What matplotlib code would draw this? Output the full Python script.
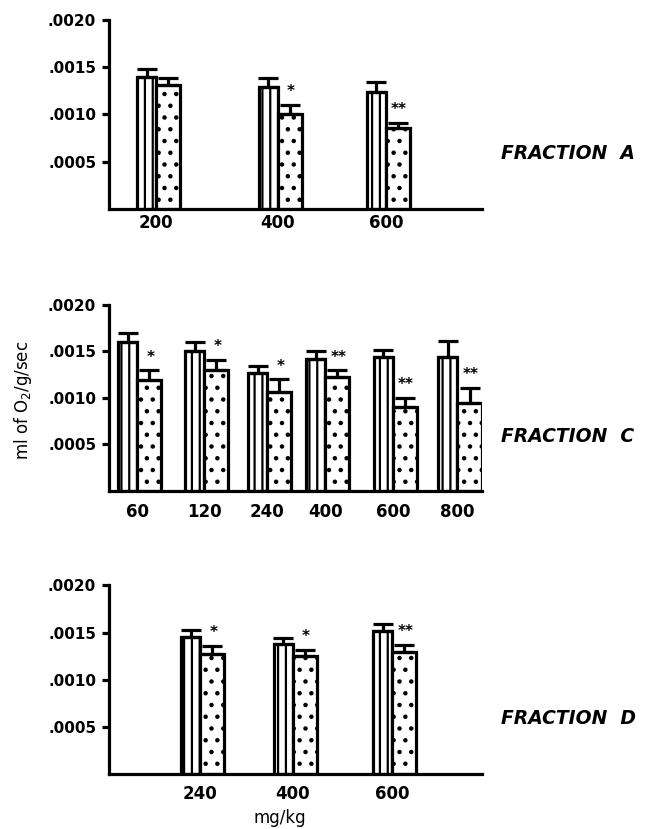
import matplotlib
matplotlib.use("Agg")
import matplotlib.pyplot as plt
import numpy as np

# Data (ml of O2/g/sec), open = control, dotted = treated
doses_a = ["200", "400", "600"]
ctrl_a = [0.00140, 0.00129, 0.00124]
ctrl_err_a = [0.00008, 0.00009, 0.00010]
trt_a = [0.00131, 0.00100, 0.00086]
trt_err_a = [0.00008, 0.00010, 0.00005]
sig_a = ["", "*", "**"]

doses_c = ["60", "120", "240", "400", "600", "800"]
ctrl_c = [0.00160, 0.00150, 0.00127, 0.00142, 0.00144, 0.00144]
ctrl_err_c = [0.00010, 0.00010, 0.00007, 0.00008, 0.00008, 0.00017]
trt_c = [0.00119, 0.00130, 0.00106, 0.00123, 0.00090, 0.00094]
trt_err_c = [0.00011, 0.00011, 0.00014, 0.00007, 0.00010, 0.00017]
sig_c = ["*", "*", "*", "**", "**", "**"]

doses_d = ["240", "400", "600"]
ctrl_d = [0.00145, 0.00138, 0.00152]
ctrl_err_d = [0.00008, 0.00006, 0.00007]
trt_d = [0.00127, 0.00125, 0.00129]
trt_err_d = [0.00009, 0.00007, 0.00008]
sig_d = ["*", "*", "**"]

yticks = [0.0005, 0.0010, 0.0015, 0.0020]
ytick_labels = [".0005", ".0010", ".0015", ".0020"]

# layout: group positions along x axis (axis spans 0..373)
pos_a = [47.5, 169, 277]
pos_c = [28.5, 95.5, 158.5, 216.5, 284, 348.5]
pos_d = [91.5, 184, 283.5]

# hatch spacing follows dpi, so render at a higher dpi for a sparser stipple
DPI = 141


def pt(v):
    # sizes below are tuned as if at 100 dpi
    return v * 100 / DPI


plt.rcParams["font.family"] = "DejaVu Sans"

fig = plt.figure(figsize=(647 / DPI, 829 / DPI), dpi=DPI)

LW = pt(2.3)


def panel(rect, pos, labels, ctrl, ctrl_err, trt, trt_err, sig, name, pad):
    ax = fig.add_axes(rect)
    pos = np.array(pos)
    with plt.rc_context({"hatch.linewidth": pt(1.6)}):
        ax.bar(pos, ctrl, width=-19, align="edge", facecolor="white",
               edgecolor="black", linewidth=LW, hatch="|||", zorder=2)
    with plt.rc_context({"hatch.linewidth": pt(1.5)}):
        ax.bar(pos, trt, width=24, align="edge", facecolor="white",
               edgecolor="black", linewidth=LW, hatch="..", zorder=2)
    ax.errorbar(pos - 9.5, ctrl, yerr=[np.zeros(len(ctrl)), ctrl_err],
                fmt="none", ecolor="black", elinewidth=LW, capsize=pt(7),
                capthick=LW, zorder=3)
    ax.errorbar(pos + 12, trt, yerr=[np.zeros(len(trt)), trt_err],
                fmt="none", ecolor="black", elinewidth=LW, capsize=pt(7),
                capthick=LW, zorder=3)
    for x, y, e, s in zip(pos, trt, trt_err, sig):
        if s:
            ax.annotate(s, (x + 13, y + e), xytext=(0, pt(4)),
                        textcoords="offset points", ha="center", va="bottom",
                        fontsize=pt(11), fontweight="bold")
    ax.set_xlim(0, 373)
    ax.set_ylim(0, 0.002)
    ax.set_yticks(yticks)
    ax.set_yticklabels(ytick_labels, fontsize=pt(11), fontweight="bold")
    ax.set_xticks(pos)
    ax.set_xticklabels(labels, fontsize=pt(12), fontweight="bold")
    ax.tick_params(axis="x", length=0, pad=pt(pad))
    ax.tick_params(axis="y", length=pt(5), width=LW, direction="out",
                   pad=pt(4))
    for s in ["top", "right"]:
        ax.spines[s].set_visible(False)
    for s in ["left", "bottom"]:
        ax.spines[s].set_linewidth(LW)
    ax.patch.set_visible(False)
    fig.text(0.775, rect[1] + rect[3] * 0.32 - 0.006, name, fontsize=pt(13.5),
             fontweight="bold", fontstyle="italic", ha="left", va="center")
    return ax


panel([0.168, 0.748, 0.577, 0.228], pos_a, doses_a, ctrl_a, ctrl_err_a,
      trt_a, trt_err_a, sig_a, "FRACTION  A", 4)
panel([0.168, 0.408, 0.577, 0.224], pos_c, doses_c, ctrl_c, ctrl_err_c,
      trt_c, trt_err_c, sig_c, "FRACTION  C", 9)
panel([0.168, 0.066, 0.577, 0.228], pos_d, doses_d, ctrl_d, ctrl_err_d,
      trt_d, trt_err_d, sig_d, "FRACTION  D", 8)

fig.text(0.036, 0.517, "ml of O$_2$/g/sec", rotation=90, fontsize=pt(12),
         ha="center", va="center")
fig.text(0.433, 0.013, "mg/kg", fontsize=pt(12), ha="center", va="center")

fig.savefig("out.png", dpi=DPI)
